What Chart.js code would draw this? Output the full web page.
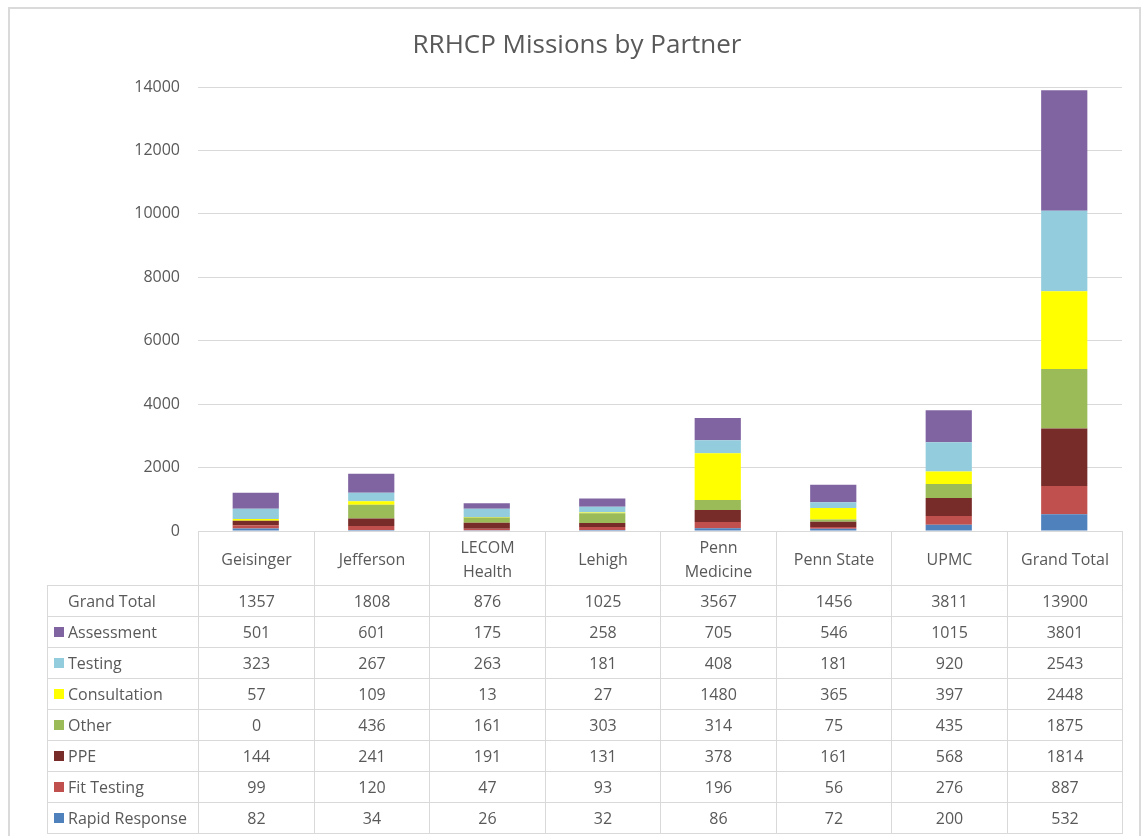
<!DOCTYPE html>
<html><head><meta charset="utf-8">
<script src="https://cdn.jsdelivr.net/npm/chart.js@4.4.0/dist/chart.umd.min.js"></script>
<style>
html,body{margin:0;padding:0;background:#fff;}
#wrap{position:relative;width:1143px;height:836px;overflow:hidden;font-family:"Open Sans",sans-serif;}
#frame{position:absolute;left:8px;top:7px;width:1133px;height:850px;border:2px solid #dadada;box-sizing:border-box;}
canvas{position:absolute;left:0;top:0;}
.cell{position:absolute;box-sizing:border-box;border:1px solid #d9d9d9;color:#595959;font-size:16px;display:flex;align-items:center;justify-content:center;text-align:center;line-height:1.5;background:transparent;}
.rowhead{justify-content:flex-start;padding-left:20px;white-space:nowrap;}
.key{position:absolute;left:6px;width:10px;height:10px;top:50%;margin-top:-5px;}
</style></head><body>
<div id="wrap"><div id="frame"></div><canvas id="c" width="1143" height="836"></canvas><div id="table"></div></div>
<script>
// ---- data ----
const categories = ['Geisinger', 'Jefferson', ['LECOM', 'Health'], 'Lehigh', ['Penn', 'Medicine'], 'Penn State', 'UPMC', 'Grand Total'];
const rapidResponse = [82, 34, 26, 32, 86, 72, 200, 532];
const fitTesting = [99, 120, 47, 93, 196, 56, 276, 887];
const ppe = [144, 241, 191, 131, 378, 161, 568, 1814];
const other = [0, 436, 161, 303, 314, 75, 435, 1875];
const consultation = [57, 109, 13, 27, 1480, 365, 397, 2448];
const testing = [323, 267, 263, 181, 408, 181, 920, 2543];
const assessment = [501, 601, 175, 258, 705, 546, 1015, 3801];
const grandTotal = [1357, 1808, 876, 1025, 3567, 1456, 3811, 13900];
const yTicks = [0, 2000, 4000, 6000, 8000, 10000, 12000, 14000];
const chartTitle = 'RRHCP Missions by Partner';

// stack order bottom -> top
const series = [
  { name: 'Rapid Response', data: rapidResponse, color: '#4F81BD' },
  { name: 'Fit Testing', data: fitTesting, color: '#C0504D' },
  { name: 'PPE', data: ppe, color: '#772C2A' },
  { name: 'Other', data: other, color: '#9BBB59' },
  { name: 'Consultation', data: consultation, color: '#FFFF00' },
  { name: 'Testing', data: testing, color: '#93CDDD' },
  { name: 'Assessment', data: assessment, color: '#8064A2' }
];

const FIRST_COL_W = 151, HEAD_H = 54, ROW_H = 31;

const chart = new Chart(document.getElementById('c'), {
  type: 'bar',
  data: {
    labels: categories,
    datasets: series.map(s => ({
      label: s.name, data: s.data, backgroundColor: s.color, borderWidth: 0,
      categoryPercentage: 0.8, barPercentage: 0.5
    }))
  },
  options: {
    responsive: false,
    animation: false,
    layout: { padding: { left: 32, right: 21, top: 0, bottom: 0 } },
    plugins: {
      legend: { display: false },
      tooltip: { enabled: false },
      title: {
        display: true, text: chartTitle, color: '#595959',
        font: { family: '"Open Sans", sans-serif', size: 26, weight: 'normal' },
        padding: { top: 30, bottom: 25.8 }
      }
    },
    scales: {
      x: {
        stacked: true,
        grid: { display: false },
        border: { display: false },
        ticks: { display: false },
        afterFit: s => { s.height = 836 - 531; }
      },
      y: {
        stacked: true,
        min: 0, max: yTicks[yTicks.length - 1],
        afterBuildTicks: s => { s.ticks = yTicks.map(v => ({ value: v })); },
        afterFit: s => { s.width = 166; },
        grid: { color: '#d9d9d9', lineWidth: 1, drawTicks: false },
        border: { display: false },
        ticks: {
          color: '#595959', padding: 18,
          font: { family: '"Open Sans", sans-serif', size: 16 },
          callback: v => String(v)
        }
      }
    }
  }
});

// ---- data table built from the x scale ----
(function buildTable() {
  const area = chart.chartArea;
  const xs = chart.scales.x;
  const colW = (area.right - area.left) / categories.length;
  const top = Math.round(area.bottom);
  const left0 = Math.round(area.left) - FIRST_COL_W;
  const tbl = document.getElementById('table');
  function cell(x0, x1, y, h, html, cls) {
    const d = document.createElement('div');
    d.className = 'cell' + (cls ? ' ' + cls : '');
    d.style.left = x0 + 'px'; d.style.top = y + 'px';
    d.style.width = (x1 - x0 + 1) + 'px'; d.style.height = (h + 1) + 'px';
    d.innerHTML = html;
    tbl.appendChild(d);
    return d;
  }
  const edges = categories.map((c, i) => {
    const cx = xs.getPixelForTick(i);
    return [Math.round(cx - colW / 2), Math.round(cx + colW / 2)];
  });
  categories.forEach((c, i) => {
    const text = Array.isArray(c) ? c.join('<br>') : c;
    cell(edges[i][0], edges[i][1], top, HEAD_H, text);
  });
  const rows = [{ name: 'Grand Total', data: grandTotal, color: null }].concat(series.slice().reverse());
  rows.forEach((r, ri) => {
    const y = top + HEAD_H + ri * ROW_H;
    const h = cell(left0, Math.round(area.left), y, ROW_H, r.name, 'rowhead');
    if (r.color) {
      const k = document.createElement('span');
      k.className = 'key'; k.style.background = r.color;
      h.appendChild(k);
    }
    r.data.forEach((v, i) => {
      cell(edges[i][0], edges[i][1], y, ROW_H, String(v));
    });
  });
})();
</script>
</body></html>
